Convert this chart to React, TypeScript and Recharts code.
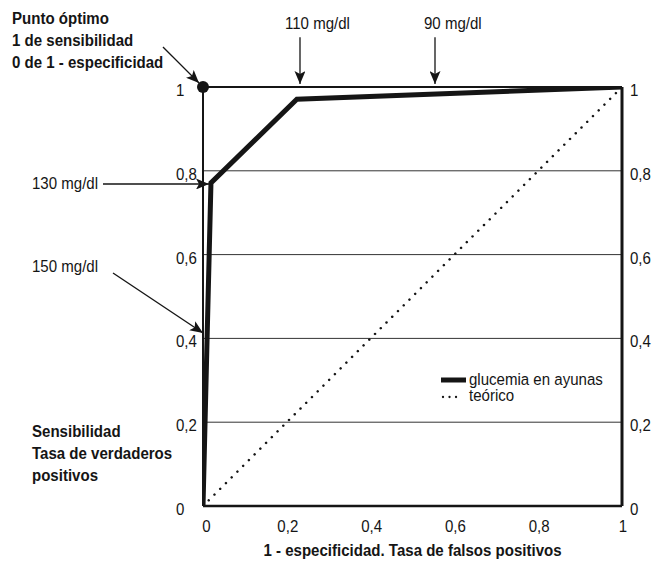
import React from 'react';
import * as RC from 'recharts';
import { ComposedChart, Line, XAxis, YAxis, CartesianGrid, ReferenceDot, ReferenceLine } from 'recharts';

// ---- data ----
const rocX = [0, 0.01, 0.019, 0.224, 1];
const rocY = [0, 0.41, 0.771, 0.971, 1];
const refX = [0, 1];
const refY = [0, 1];
const xTicks = [0, 0.2, 0.4, 0.6, 0.8, 1];
const xTickLabels = ['0', '0,2', '0,4', '0,6', '0,8', '1'];
const yTicks = [0, 0.2, 0.4, 0.6, 0.8, 1];
const yTickLabels = ['0', '0,2', '0,4', '0,6', '0,8', '1'];
const seriesNames = ['glucemia en ayunas', 'teórico'];
const optimumPoint = { x: 0, y: 1 };
const optimumLines = ['Punto óptimo', '1 de sensibilidad', '0 de 1 - especificidad'];
const yTitleLines = ['Sensibilidad', 'Tasa de verdaderos', 'positivos'];
const xTitle = '1 - especificidad. Tasa de falsos positivos';
// arrows: tail and tip in data coordinates
const arrowLabels = ['110 mg/dl', '90 mg/dl', '130 mg/dl', '150 mg/dl'];
const arrowTails = [[0.2315, 1.119], [0.5537, 1.119], [-0.2387, 0.7685], [-0.2148, 0.556]];
const arrowTips = [[0.2315, 1.007], [0.5537, 1.007], [0.0143, 0.7685], [0.0, 0.413]];
const optimumArrowTail = [-0.0955, 1.0955];
const optimumArrowTip = [-0.0095, 1.0095];

const rocData = rocX.map((x, i) => ({ x, y: rocY[i] }));
const refData = refX.map((x, i) => ({ x, y: refY[i] }));

// ---- layout ----
const W = 654;
const H = 563;
const FONT = "'Liberation Sans', Arial, Helvetica, sans-serif";
const FS = 17;
const SX = 0.885; // horizontal condensing to mimic a narrow grotesque
const INK = '#151515';
const LEFT_AXIS_W = 40;
const RIGHT_AXIS_W = 32;
const X_AXIS_H = 40;
const margin = { top: 87, left: 203 - LEFT_AXIS_W, right: W - 622 - RIGHT_AXIS_W, bottom: H - 506 - X_AXIS_H };
const labelPos = [[285, 29], [424, 29], [32, 189], [32, 272]];

const T = ({ x, y, anchor = 'start', bold = false, children }: any) => (
  <text transform={`translate(${x},${y}) scale(${SX},1)`} x={0} y={0} fontSize={FS} fontFamily={FONT}
    fontWeight={bold ? 'bold' : 'normal'} textAnchor={anchor} fill={INK}>
    {children}
  </text>
);

function usePlot() {
  const R: any = RC;
  const pa = R.usePlotArea ? R.usePlotArea() : null;
  const off = R.useOffset ? R.useOffset() : null;
  if (pa && pa.width) return { x: pa.x, y: pa.y, width: pa.width, height: pa.height };
  if (off) return { x: off.left, y: off.top, width: W - off.left - off.right, height: H - off.top - off.bottom };
  return { x: 203, y: 87, width: 419, height: 419 };
}

function Annotations() {
  const p = usePlot();
  const sx = (v: number) => p.x + v * p.width;
  const sy = (v: number) => p.y + (1 - v) * p.height;
  const arrow = (tail: number[], tip: number[], key: string) => (
    <line key={key} x1={sx(tail[0])} y1={sy(tail[1])} x2={sx(tip[0])} y2={sy(tip[1])}
      stroke={INK} strokeWidth={1.3} markerEnd="url(#arrowHead)" />
  );
  return (
    <g>
      <defs>
        <marker id="arrowHead" viewBox="0 0 13 11" refX="13" refY="5.5" markerWidth="13" markerHeight="11"
          markerUnits="userSpaceOnUse" orient="auto">
          <path d="M0,0 L13,5.5 L0,11 L3,5.5 Z" fill={INK} />
        </marker>
      </defs>
      {arrow(optimumArrowTail, optimumArrowTip, 'opt')}
      {arrowTails.map((t, i) => arrow(t, arrowTips[i], 'a' + i))}
      {arrowLabels.map((l, i) => (
        <T key={l} x={labelPos[i][0]} y={labelPos[i][1]}>{l}</T>
      ))}
      {optimumLines.map((l, i) => (
        <T key={l} x={12} y={24 + i * 22} bold>{l}</T>
      ))}
      {yTitleLines.map((l, i) => (
        <T key={l} x={32} y={437 + i * 22} bold>{l}</T>
      ))}
      <T x={sx(0.5)} y={556} bold anchor="middle">{xTitle}</T>
      {/* legend */}
      <line x1={441} x2={466} y1={380} y2={380} stroke={INK} strokeWidth={5} />
      <T x={469} y={385}>{seriesNames[0]}</T>
      <line x1={443} x2={458} y1={397} y2={397} stroke={INK} strokeWidth={2.3} strokeDasharray="0.01 6.5" strokeLinecap="round" />
      <T x={469} y={401}>{seriesNames[1]}</T>
    </g>
  );
}

const LeftTick = (props: any) => (
  <T x={props.x} y={props.y + 9}>{yTickLabels[yTicks.indexOf(props.payload.value)]}</T>
);
const RightTick = (props: any) => (
  <T x={props.x} y={props.y + 9}>{yTickLabels[yTicks.indexOf(props.payload.value)]}</T>
);
const BottomTick = (props: any) => (
  <T x={props.x + (props.payload.value === 0 ? 3.5 : 1)} y={props.y + 26} anchor="middle">
    {xTickLabels[xTicks.indexOf(props.payload.value)]}
  </T>
);

export default function App() {
  return (
    <div style={{ position: 'absolute', left: 0, top: 0, width: W, height: H, background: '#fff' }}>
      <ComposedChart width={W} height={H} margin={margin}>
        <CartesianGrid horizontal vertical={false} stroke="#333" strokeWidth={1} />
        <XAxis type="number" dataKey="x" domain={[0, 1]} ticks={xTicks} allowDataOverflow
          height={X_AXIS_H} tickSize={0} tickMargin={0} tickLine={false}
          axisLine={{ stroke: INK, strokeWidth: 2.5 }} tick={<BottomTick />} interval={0} />
        <YAxis type="number" domain={[0, 1]} ticks={yTicks} allowDataOverflow width={LEFT_AXIS_W}
          tickSize={0} tickMargin={27} tickLine={false} axisLine={{ stroke: INK, strokeWidth: 2 }}
          tick={<LeftTick />} interval={0} />
        <YAxis yAxisId="right" orientation="right" type="number" domain={[0, 1]} ticks={yTicks} allowDataOverflow
          width={RIGHT_AXIS_W} tickSize={0} tickMargin={8} tickLine={false}
          axisLine={{ stroke: INK, strokeWidth: 3 }} tick={<RightTick />} interval={0} />
        <ReferenceLine y={1} stroke={INK} strokeWidth={2} />
        <Line data={refData} dataKey="y" type="linear" stroke={INK} strokeWidth={2.5}
          strokeDasharray="0.01 8.1" strokeLinecap="round" dot={false} activeDot={false}
          isAnimationActive={false} name={seriesNames[1]} />
        <Line data={rocData} dataKey="y" type="linear" stroke={INK} strokeWidth={5}
          strokeLinejoin="miter" dot={false} activeDot={false} isAnimationActive={false} name={seriesNames[0]} />
        <ReferenceDot x={optimumPoint.x} y={optimumPoint.y} r={6} fill={INK} stroke="none" ifOverflow="visible" />
        <Annotations />
      </ComposedChart>
    </div>
  );
}
